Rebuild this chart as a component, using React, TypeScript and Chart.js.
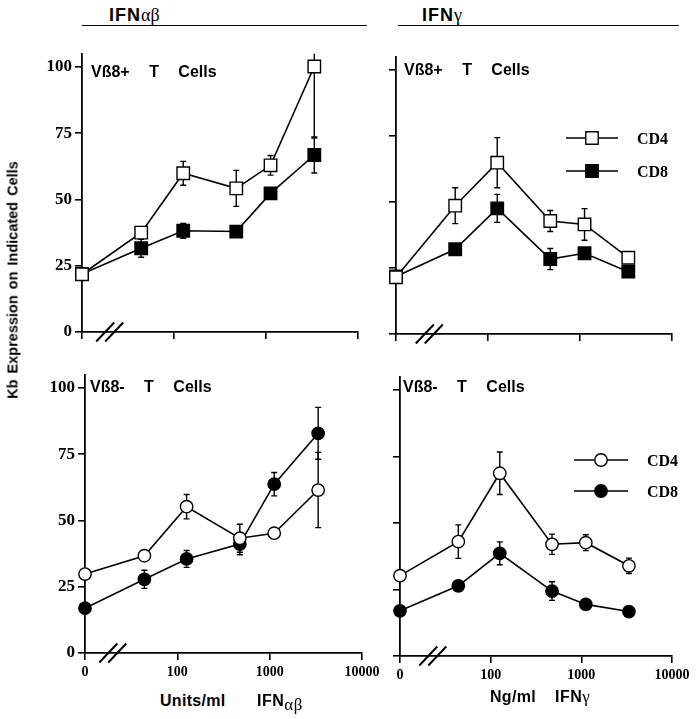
import React, { useEffect, useRef } from "react";
import { Chart, registerables } from "chart.js";
Chart.register(...registerables);

// ---------------- data ----------------
const DOSE_TICKS = [10, 100, 1000, 10000];
const DOSE_TICK_LABELS = ["0", "100", "1000", "10000"];
const DOSES = [10, 44, 126, 475, 1120, 3350];
const Y_TICKS = [0, 25, 50, 75, 100];
const SERIES_LABELS = ["CD4", "CD8"];

// Vß8+ T cells, IFNαβ
const abPosCD4 = [21.8, 37.5, 59.9, 54.2, 62.9, 100.2];
const abPosCD4Err = [0, 0, 4.5, 6.8, 3.7, 27];
const abPosCD8 = [21.9, 31.6, 38.2, 37.9, 52.3, 66.8];
const abPosCD8Err = [0, 3.4, 2.8, 0, 0, 6.8];
// Vß8+ T cells, IFNγ
const gPosCD4 = [21.5, 48.6, 64.9, 42.8, 41.5, 28.9];
const gPosCD4Err = [0, 6.8, 9.5, 4, 6, 0];
const gPosCD8 = [21.8, 32.1, 47.6, 28.4, 30.6, 23.6];
const gPosCD8Err = [0, 0, 5.3, 4, 0, 0];
// Vß8- T cells, IFNαβ
const abNegCD4 = [29.8, 36.7, 55.2, 43.3, 45.2, 61.5];
const abNegCD4Err = [0, 0, 4.6, 5.3, 0, 14.2];
const abNegCD8 = [16.9, 27.8, 35.5, 41.1, 63.7, 82.9];
const abNegCD8Err = [0, 3.4, 3.2, 4, 4.4, 9.8];
// Vß8- T cells, IFNγ
const gNegCD4 = [30.2, 43, 68.7, 42, 42.6, 33.9];
const gNegCD4Err = [0, 6.3, 8, 3.8, 3, 2.9];
const gNegCD8 = [17, 26.4, 38.6, 24.4, 19.4, 16.7];
const gNegCD8Err = [0, 0, 4.3, 3.5, 0, 0];

// ---------------- layout ----------------
type Legend = { x1: number; x2: number; mx: number; y4: number; y8: number; tx: number };
type PanelDef = {
  id: string;
  canvas: { x: number; y: number; w: number; h: number };
  area: { left: number; right: number; top: number; bottom: number };
  shape: "rect" | "circle";
  cd4: number[];
  cd4Err: number[];
  cd8: number[];
  cd8Err: number[];
  yLabels: boolean;
  xLabels: boolean;
  breakAt: number;
  legend?: Legend;
};

const PANELS: PanelDef[] = [
  {
    id: "tl",
    canvas: { x: 0, y: 40, w: 400, h: 320 },
    area: { left: 82, right: 358, top: 53.75, bottom: 332 },
    shape: "rect",
    cd4: abPosCD4, cd4Err: abPosCD4Err, cd8: abPosCD8, cd8Err: abPosCD8Err,
    yLabels: true, xLabels: false, breakAt: 20,
  },
  {
    id: "tr",
    canvas: { x: 340, y: 40, w: 356, h: 320 },
    area: { left: 396, right: 672, top: 56.8, bottom: 334 },
    shape: "rect",
    cd4: gPosCD4, cd4Err: gPosCD4Err, cd8: gPosCD8, cd8Err: gPosCD8Err,
    yLabels: false, xLabels: false, breakAt: 23,
    legend: { x1: 566, x2: 618, mx: 592, y4: 138, y8: 171, tx: 637 },
  },
  {
    id: "bl",
    canvas: { x: 0, y: 360, w: 400, h: 330 },
    area: { left: 85, right: 362, top: 374.75, bottom: 653 },
    shape: "circle",
    cd4: abNegCD4, cd4Err: abNegCD4Err, cd8: abNegCD8, cd8Err: abNegCD8Err,
    yLabels: true, xLabels: true, breakAt: 20,
  },
  {
    id: "br",
    canvas: { x: 340, y: 360, w: 356, h: 330 },
    area: { left: 400, right: 672, top: 376.7, bottom: 656 },
    shape: "circle",
    cd4: gNegCD4, cd4Err: gNegCD4Err, cd8: gNegCD8, cd8Err: gNegCD8Err,
    yLabels: false, xLabels: true, breakAt: 23,
    legend: { x1: 574, x2: 628, mx: 601, y4: 460, y8: 491, tx: 647 },
  },
];

const SQUARE_R = 8.8;
const CIRCLE_R = 6.2;

function drawMarker(ctx: CanvasRenderingContext2D, shape: string, x: number, y: number, fill: string) {
  ctx.save();
  ctx.fillStyle = fill;
  ctx.strokeStyle = "#000";
  ctx.lineWidth = 1.4;
  ctx.beginPath();
  if (shape === "rect") {
    const h = SQUARE_R * Math.SQRT1_2;
    ctx.rect(x - h, y - h, 2 * h, 2 * h);
  } else {
    ctx.arc(x, y, CIRCLE_R, 0, Math.PI * 2);
  }
  ctx.fill();
  ctx.stroke();
  ctx.restore();
}

function makeDecor(p: PanelDef) {
  return {
    id: "decor_" + p.id,
    beforeDatasetsDraw(chart: any) {
      const { ctx, chartArea, scales } = chart;
      ctx.save();
      ctx.beginPath();
      ctx.rect(chartArea.left, chartArea.top, chartArea.right - chartArea.left, chartArea.bottom - chartArea.top + 20);
      ctx.clip();
      ctx.strokeStyle = "#000";
      ctx.lineWidth = 1.4;
      chart.data.datasets.forEach((ds: any) => {
        ds.data.forEach((pt: any, i: number) => {
          const e = ds.errors[i];
          if (!e) return;
          const x = scales.x.getPixelForValue(pt.x);
          const y1 = scales.y.getPixelForValue(pt.y + e);
          const y2 = scales.y.getPixelForValue(pt.y - e);
          ctx.beginPath();
          ctx.moveTo(x, y1);
          ctx.lineTo(x, y2);
          ctx.moveTo(x - 3, y1);
          ctx.lineTo(x + 3, y1);
          ctx.moveTo(x - 3, y2);
          ctx.lineTo(x + 3, y2);
          ctx.stroke();
        });
      });
      ctx.restore();
    },
    afterDraw(chart: any) {
      const { ctx, chartArea, scales } = chart;
      // axis break marks
      const bx = scales.x.getPixelForValue(p.breakAt);
      const by = chartArea.bottom;
      ctx.save();
      ctx.strokeStyle = "#000";
      ctx.lineWidth = 2;
      [-4.5, 4.5].forEach((o) => {
        ctx.beginPath();
        ctx.moveTo(bx + o - 9, by + 9.5);
        ctx.lineTo(bx + o + 9, by - 9.5);
        ctx.stroke();
      });
      // legend
      if (p.legend) {
        const L = p.legend;
        const ox = p.canvas.x;
        const oy = p.canvas.y;
        [
          { y: L.y4, fill: "#fff", label: SERIES_LABELS[0] },
          { y: L.y8, fill: "#000", label: SERIES_LABELS[1] },
        ].forEach((it) => {
          ctx.lineWidth = 1.6;
          ctx.beginPath();
          ctx.moveTo(L.x1 - ox, it.y - oy);
          ctx.lineTo(L.x2 - ox, it.y - oy);
          ctx.stroke();
          drawMarker(ctx, p.shape, L.mx - ox, it.y - oy, it.fill);
          ctx.fillStyle = "#000";
          ctx.font = 'bold 16px "Liberation Serif", serif';
          ctx.textBaseline = "alphabetic";
          ctx.textAlign = "left";
          ctx.fillText(it.label, L.tx - ox, it.y - oy + 5.5);
        });
      }
      ctx.restore();
    },
  };
}

function makeConfig(p: PanelDef): any {
  const mk = (label: string, vals: number[], errs: number[], fill: string) => ({
    label,
    data: DOSES.map((x, i) => ({ x, y: vals[i] })),
    errors: errs,
    borderColor: "#000",
    borderWidth: 1.6,
    backgroundColor: fill,
    pointStyle: p.shape,
    pointRadius: p.shape === "rect" ? SQUARE_R : CIRCLE_R,
    pointHoverRadius: p.shape === "rect" ? SQUARE_R : CIRCLE_R,
    pointBorderWidth: 1.4,
    pointBackgroundColor: fill,
    pointBorderColor: "#000",
    tension: 0,
    fill: false,
    clip: false,
  });
  return {
    type: "line",
    data: {
      datasets: [
        mk(SERIES_LABELS[0], p.cd4, p.cd4Err, "#fff"),
        mk(SERIES_LABELS[1], p.cd8, p.cd8Err, "#000"),
      ],
    },
    options: {
      responsive: false,
      animation: false,
      devicePixelRatio: 1,
      events: [],
      layout: {
        padding: {
          left: 0,
          top: p.area.top - p.canvas.y,
          right: p.canvas.x + p.canvas.w - p.area.right,
          bottom: 0,
        },
      },
      plugins: { legend: { display: false }, tooltip: { enabled: false }, title: { display: false } },
      scales: {
        x: {
          type: "logarithmic",
          position: "bottom",
          min: DOSE_TICKS[0],
          max: DOSE_TICKS[DOSE_TICKS.length - 1],
          afterBuildTicks: (s: any) => {
            s.ticks = DOSE_TICKS.map((v) => ({ value: v }));
          },
          afterFit: (s: any) => {
            s.height = p.canvas.y + p.canvas.h - p.area.bottom;
          },
          grid: { drawOnChartArea: false, drawTicks: true, tickLength: 7, color: "#000", lineWidth: 1.6 },
          border: { display: true, color: "#000", width: 1.8 },
          ticks: {
            display: p.xLabels,
            autoSkip: false,
            maxRotation: 0,
            minRotation: 0,
            padding: 4,
            color: "#000",
            font: { family: '"Liberation Serif", serif', weight: "bold", size: 14 },
            callback: (v: any) => {
              const i = DOSE_TICKS.indexOf(Number(v));
              return i >= 0 ? DOSE_TICK_LABELS[i] : "";
            },
          },
        },
        y: {
          type: "linear",
          position: "left",
          min: 0,
          max: 105,
          afterBuildTicks: (s: any) => {
            s.ticks = Y_TICKS.map((v) => ({ value: v }));
          },
          afterFit: (s: any) => {
            s.width = p.area.left - p.canvas.x;
          },
          grid: { drawOnChartArea: false, drawTicks: true, tickLength: 7, color: "#000", lineWidth: 1.6 },
          border: { display: true, color: "#000", width: 1.8 },
          ticks: {
            display: p.yLabels,
            padding: 3,
            color: "#000",
            font: { family: '"Liberation Serif", serif', weight: "bold", size: 17 },
            callback: (v: any) => String(v),
          },
        },
      },
    },
    plugins: [makeDecor(p)],
  };
}

function PanelChart({ p }: { p: PanelDef }) {
  const ref = useRef<HTMLCanvasElement>(null);
  useEffect(() => {
    const chart = new Chart(ref.current as HTMLCanvasElement, makeConfig(p));
    return () => chart.destroy();
  }, []);
  return (
    <canvas
      ref={ref}
      width={p.canvas.w}
      height={p.canvas.h}
      style={{ position: "absolute", left: p.canvas.x, top: p.canvas.y, width: p.canvas.w, height: p.canvas.h }}
    />
  );
}

const SANS = '"Liberation Sans", Arial, Helvetica, sans-serif';
const SERIF = '"Liberation Serif", "Times New Roman", serif';

function Txt(props: { x: number; cy: number; size: number; children: any; style?: any }) {
  const { x, cy, size, children, style } = props;
  return (
    <div
      style={{
        position: "absolute",
        left: x,
        top: cy - 0.489 * size,
        fontSize: size,
        lineHeight: `${size}px`,
        fontFamily: SANS,
        fontWeight: "bold",
        whiteSpace: "nowrap",
        color: "#000",
        ...style,
      }}
    >
      {children}
    </div>
  );
}

export default function App() {
  const panelLabel = { wordSpacing: "15px" };
  return (
    <div style={{ position: "absolute", left: 0, top: 0, width: 696, height: 719, background: "#fff", overflow: "hidden" }}>
      {PANELS.map((p) => (
        <PanelChart key={p.id} p={p} />
      ))}
      {/* headers */}
      <Txt x={109} cy={15} size={18} style={{ letterSpacing: "1px" }}>
        IFN<span style={{ fontFamily: SERIF, fontWeight: "normal", letterSpacing: 0 }}>αβ</span>
      </Txt>
      <Txt x={422} cy={15} size={18} style={{ letterSpacing: "1px" }}>
        IFN<span style={{ fontFamily: SERIF, fontWeight: "normal", letterSpacing: 0 }}>γ</span>
      </Txt>
      <div style={{ position: "absolute", left: 82, top: 24.5, width: 285, height: 0, borderTop: "1.5px solid #000" }} />
      <div style={{ position: "absolute", left: 398, top: 24.5, width: 281, height: 0, borderTop: "1.5px solid #000" }} />
      {/* panel labels */}
      <Txt x={91} cy={72} size={16} style={panelLabel}>Vß8+ T Cells</Txt>
      <Txt x={404} cy={70} size={16} style={panelLabel}>Vß8+ T Cells</Txt>
      <Txt x={90} cy={387} size={16} style={panelLabel}>Vß8- T Cells</Txt>
      <Txt x={403} cy={387} size={16} style={panelLabel}>Vß8- T Cells</Txt>
      {/* y axis title */}
      <div
        style={{
          position: "absolute",
          left: 13,
          top: 280,
          transform: "translate(-50%, -50%) rotate(-90deg)",
          fontFamily: SANS,
          fontWeight: "bold",
          fontSize: 14.5,
          lineHeight: "15px",
          whiteSpace: "nowrap",
          wordSpacing: "2px",
          color: "#000",
        }}
      >
        Kb Expression on Indicated Cells
      </div>
      {/* x axis titles */}
      <Txt x={160} cy={701} size={16} style={{ letterSpacing: "0.3px" }}>Units/ml</Txt>
      <Txt x={257} cy={701} size={16} style={{ letterSpacing: "0.5px" }}>
        IFN<span style={{ fontFamily: SERIF, fontWeight: "normal", fontSize: 17, position: "relative", top: 4 }}>αβ</span>
      </Txt>
      <Txt x={490} cy={697} size={16} style={{ letterSpacing: "0.3px" }}>Ng/ml</Txt>
      <Txt x={555} cy={697} size={16} style={{ letterSpacing: "0.5px" }}>
        IFN<span style={{ fontFamily: SERIF, fontWeight: "normal", fontSize: 17 }}>γ</span>
      </Txt>
    </div>
  );
}
